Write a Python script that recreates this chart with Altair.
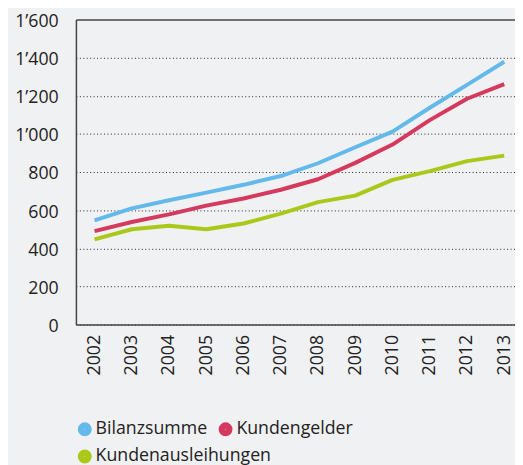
import altair as alt
import pandas as pd

years = [str(y) for y in range(2002, 2014)]
bilanzsumme = [547, 609, 652, 692, 733, 779, 846, 930, 1012, 1137, 1257, 1378]
kundengelder = [490, 538, 578, 624, 661, 707, 762, 848, 944, 1072, 1184, 1261]
kundenausleihungen = [447, 500, 518, 500, 530, 582, 642, 676, 759, 805, 857, 886]
series = ["Bilanzsumme", "Kundengelder", "Kundenausleihungen"]
colors = ["#62b9ea", "#d6395e", "#abc81a"]
y_ticks = [0, 200, 400, 600, 800, 1000, 1200, 1400, 1600]

rows = []
for name, vals in zip(series, [bilanzsumme, kundengelder, kundenausleihungen]):
    for yr, v in zip(years, vals):
        rows.append({"Jahr": yr, "Wert": v, "Serie": name})
df = pd.DataFrame(rows)

FONT = "Open Sans"
TXT = "#222222"

x_enc = alt.X("Jahr:O", title=None,
              scale=alt.Scale(type="point", padding=0.5, range=[0, 454]),
              axis=alt.Axis(labelAngle=270, labelAlign="right", labelBaseline="middle",
                            labelPadding=10, ticks=False, domainColor="#444444",
                            domainWidth=1.5, labelFontSize=18, labelFont=FONT,
                            labelColor=TXT, grid=False))
y_enc = alt.Y("Wert:Q", title=None,
              scale=alt.Scale(domain=[0, 1600], nice=False),
              axis=alt.Axis(values=y_ticks, ticks=False, labelPadding=18,
                            labelExpr="replace(format(datum.value, ','), ',', '\u2019')",
                            labelFontSize=18, labelFont=FONT, labelColor=TXT,
                            labelOffset=2,
                            domainColor="#444444", domainWidth=1.5,
                            grid=True,
                            gridColor={"condition": {"test": "datum.value === 1600", "value": "#444444"}, "value": "#222222"},
                            gridWidth={"condition": {"test": "datum.value === 1600", "value": 1.5}, "value": 1},
                            gridDash={"condition": {"test": "datum.value === 1600", "value": []}, "value": [1, 2.5]}))

legend_common = dict(title=None, orient="none", legendX=0, direction="horizontal",
                     symbolType="circle", symbolSize=44, symbolStrokeWidth=7.5,
                     symbolOpacity=1, labelFontSize=18, labelFont=FONT,
                     labelColor=TXT, labelOffset=2, columnPadding=-1,
                     labelLimit=400, padding=0)

base = alt.Chart(df)

lines_top = base.transform_filter(
    alt.FieldOneOfPredicate(field="Serie", oneOf=series[:2])
).mark_line(strokeWidth=4, strokeJoin="round").encode(
    x=x_enc, y=y_enc,
    color=alt.Color("Serie:N", sort=series[:2],
                    scale=alt.Scale(domain=series[:2], range=colors[:2]),
                    legend=alt.Legend(legendY=407, **legend_common)),
)

lines_low = base.transform_filter(
    alt.FieldEqualPredicate(field="Serie", equal=series[2])
).mark_line(strokeWidth=4, strokeJoin="round").encode(
    x=x_enc, y=y_enc,
    stroke=alt.Stroke("Serie:N",
                      scale=alt.Scale(domain=series[2:], range=colors[2:]),
                      legend=alt.Legend(legendY=435, **legend_common)),
)

chart = alt.layer(lines_top, lines_low).resolve_scale(
    color="independent", stroke="independent"
).properties(
    width=446, height=310,
    autosize=alt.AutoSizeParams(type="none"),
    padding={"left": 69, "top": 8, "right": 0, "bottom": 139},
    background="#f0f1f3",
).configure_view(stroke=None)

chart.save("out.html", embed_options={"renderer": "svg", "actions": False})
